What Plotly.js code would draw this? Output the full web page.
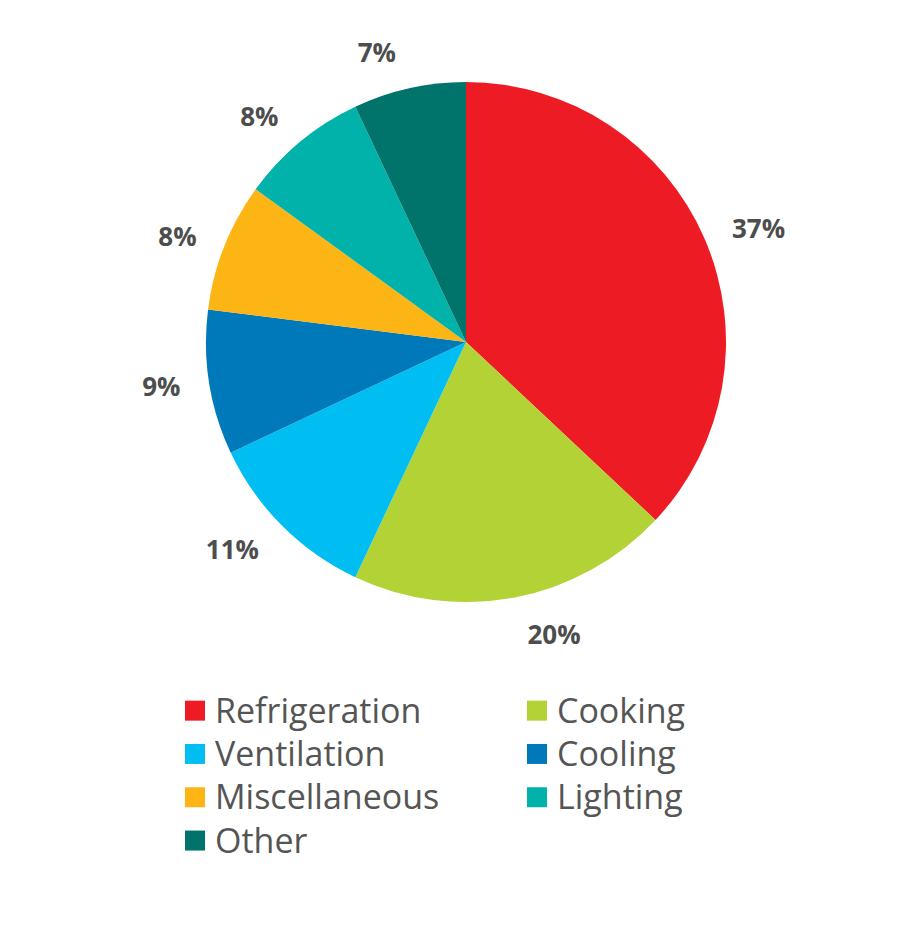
<!DOCTYPE html>
<html>
<head>
<meta charset="utf-8">
<script src="https://cdn.plot.ly/plotly-3.0.1.min.js"></script>
<style>html,body{margin:0;padding:0;background:#fff;}</style>
</head>
<body>
<div id="chart" style="width:912px;height:935px;"></div>
<script>
const categories = ["Refrigeration", "Cooking", "Ventilation", "Cooling", "Miscellaneous", "Lighting", "Other"];
const shares = [37, 20, 11, 9, 8, 8, 7];
const colors = ["#ED1C24", "#B2D235", "#00BDF2", "#0079BA", "#FDB515", "#00B2AA", "#00746A"];

const W = 912, H = 935, CX = 466, CY = 342, R = 260, RL = 280;

const pieTrace = {
  type: "pie",
  labels: categories,
  values: shares,
  sort: false,
  direction: "clockwise",
  rotation: 0,
  marker: {colors: colors, line: {width: 0}},
  textinfo: "none",
  hoverinfo: "label+percent",
  domain: {x: [(CX - R) / W, (CX + R) / W], y: [1 - (CY + R) / H, 1 - (CY - R) / H]}
};

// transparent ring used only to place the outside percentage labels a bit further out
const labelTrace = {
  type: "pie",
  labels: categories,
  values: shares,
  sort: false,
  direction: "clockwise",
  rotation: 0,
  showlegend: false,
  marker: {colors: categories.map(() => "rgba(0,0,0,0)"), line: {width: 0}},
  textinfo: "percent",
  texttemplate: "%{value}%",
  textposition: "outside",
  textfont: {family: "Open Sans, sans-serif", size: 26, color: "#4D4D4D", weight: "bold"},
  hoverinfo: "skip",
  domain: {x: [(CX - RL) / W, (CX + RL) / W], y: [1 - (CY + RL) / H, 1 - (CY - RL) / H]}
};

const layout = {
  width: W,
  height: H,
  margin: {l: 0, r: 0, t: 0, b: 0},
  paper_bgcolor: "#ffffff",
  showlegend: true,
  legend: {
    orientation: "h",
    x: 175 / W,
    xanchor: "left",
    y: 1 - 684 / H,
    yanchor: "top",
    entrywidth: 297,
    entrywidthmode: "pixels",
    font: {family: "Open Sans, sans-serif", size: 31, color: "#555555"},
    traceorder: "normal"
  }
};

Plotly.newPlot("chart", [pieTrace, labelTrace], layout, {displayModeBar: false, staticPlot: true}).then(function () {
  document.querySelectorAll(".legend .legendpoints path").forEach(function (p) {
    p.setAttribute("d", "M10,10H-10V-10H10Z");
    p.style.strokeWidth = "0";
  });
  document.querySelectorAll(".legend .legendtext").forEach(function (t) {
    t.style.fontSize = "34px";
  });
});
</script>
</body>
</html>
